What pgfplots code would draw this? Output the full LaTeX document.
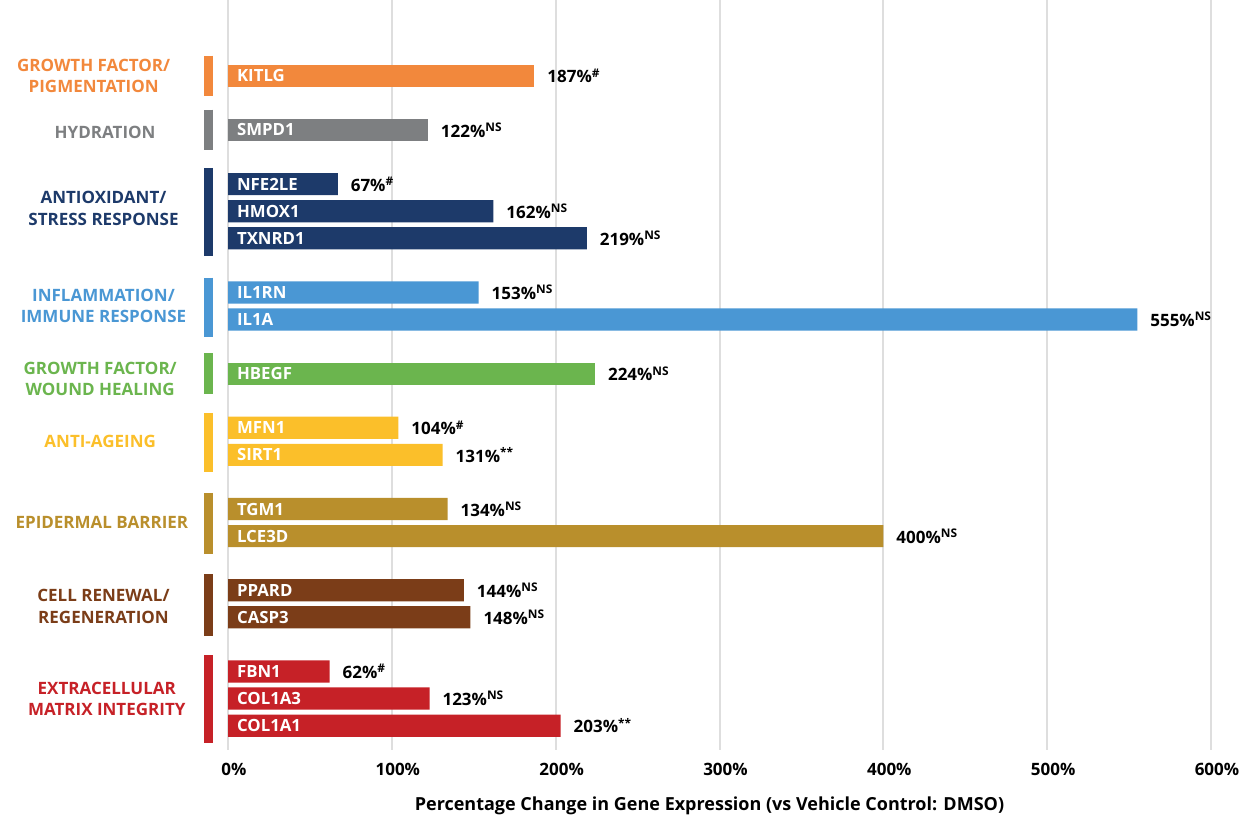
\documentclass[border=0pt]{standalone}
\usepackage{fontspec}
\setmainfont{Open Sans}
\usepackage{pgfplots}
\pgfplotsset{compat=1.18}

\definecolor{cOrange}{RGB}{242,136,60}
\definecolor{cGray}{RGB}{125,127,129}
\definecolor{cNavy}{RGB}{29,58,106}
\definecolor{cBlue}{RGB}{74,151,212}
\definecolor{cGreen}{RGB}{107,181,78}
\definecolor{cYellow}{RGB}{251,191,42}
\definecolor{cGold}{RGB}{185,143,44}
\definecolor{cBrown}{RGB}{123,61,24}
\definecolor{cRed}{RGB}{198,33,39}
\definecolor{gridgray}{RGB}{222,222,222}

\pgfplotsset{
  gbar/.style={xbar, bar width=0.82, bar shift=0pt, draw=none, fill=#1,
    point meta=explicit symbolic, nodes near coords,
    nodes near coords style={anchor=west, xshift=3pt, text=black,
      font=\fontsize{8.5}{10}\selectfont\bfseries}},
  grp/.style={#1, line width=4.8pt, forget plot},
}
\tikzset{
  gene/.style={anchor=west, xshift=1pt, text=white, font=\fontsize{8.4}{10}\selectfont\bfseries},
  cat/.style={align=center, text=#1, font=\fontsize{8.5}{10.6}\selectfont\bfseries},
}

\begin{document}
\begin{tikzpicture}
\begin{axis}[
  scale only axis, width=491.5pt, height=375pt,
  xmin=0, xmax=600, ymin=-2.8, ymax=24.9, y dir=reverse,
  clip=false,
  axis line style={draw=none},
  major tick length=0pt,
  ytick=\empty,
  xtick={0,100,200,300,400,500,600},
  xticklabels={0\%,100\%,200\%,300\%,400\%,500\%,600\%},
  xticklabel style={font=\fontsize{8.5}{10}\selectfont\bfseries, xshift=3pt, yshift=-3pt},
  xmajorgrids, major grid style={line width=1pt, gridgray},
  xlabel={Percentage Change in Gene Expression (vs Vehicle Control: DMSO)},
  xlabel style={font=\fontsize{9}{11}\selectfont\bfseries, xshift=-5pt, yshift=-4pt},
]
% growth factor / pigmentation
\addplot[gbar=cOrange] coordinates {(187,0) [187\%\textsuperscript{\#}]};
% hydration
\addplot[gbar=cGray] coordinates {(122,2) [122\%\textsuperscript{NS}]};
% antioxidant / stress response
\addplot[gbar=cNavy] coordinates {
  (67,4) [67\%\textsuperscript{\#}]
  (162,5) [162\%\textsuperscript{NS}]
  (219,6) [219\%\textsuperscript{NS}]};
% inflammation / immune response
\addplot[gbar=cBlue] coordinates {
  (153,8) [153\%\textsuperscript{NS}]
  (555,9) [555\%\textsuperscript{NS}]};
% growth factor / wound healing
\addplot[gbar=cGreen] coordinates {(224,11) [224\%\textsuperscript{NS}]};
% anti-ageing
\addplot[gbar=cYellow] coordinates {
  (104,13) [104\%\textsuperscript{\#}]
  (131,14) [131\%\textsuperscript{**}]};
% epidermal barrier
\addplot[gbar=cGold] coordinates {
  (134,16) [134\%\textsuperscript{NS}]
  (400,17) [400\%\textsuperscript{NS}]};
% cell renewal / regeneration
\addplot[gbar=cBrown] coordinates {
  (144,19) [144\%\textsuperscript{NS}]
  (148,20) [148\%\textsuperscript{NS}]};
% extracellular matrix integrity
\addplot[gbar=cRed] coordinates {
  (62,22) [62\%\textsuperscript{\#}]
  (123,23) [123\%\textsuperscript{NS}]
  (203,24) [203\%\textsuperscript{**}]};

% group markers
\addplot[grp=cOrange] coordinates {(-12,-0.75) (-12,0.75)};
\addplot[grp=cGray] coordinates {(-12,1.25) (-12,2.75)};
\addplot[grp=cNavy] coordinates {(-12,3.4) (-12,6.65)};
\addplot[grp=cBlue] coordinates {(-12,7.45) (-12,9.65)};
\addplot[grp=cGreen] coordinates {(-12,10.25) (-12,11.75)};
\addplot[grp=cYellow] coordinates {(-12,12.45) (-12,14.65)};
\addplot[grp=cGold] coordinates {(-12,15.4) (-12,17.65)};
\addplot[grp=cBrown] coordinates {(-12,18.4) (-12,20.7)};
\addplot[grp=cRed] coordinates {(-12,21.4) (-12,24.65)};

% gene names
\node[gene] at (axis cs:0,0) {KITLG};
\node[gene] at (axis cs:0,2) {SMPD1};
\node[gene] at (axis cs:0,4) {NFE2LE};
\node[gene] at (axis cs:0,5) {HMOX1};
\node[gene] at (axis cs:0,6) {TXNRD1};
\node[gene] at (axis cs:0,8) {IL1RN};
\node[gene] at (axis cs:0,9) {IL1A};
\node[gene] at (axis cs:0,11) {HBEGF};
\node[gene] at (axis cs:0,13) {MFN1};
\node[gene] at (axis cs:0,14) {SIRT1};
\node[gene] at (axis cs:0,16) {TGM1};
\node[gene] at (axis cs:0,17) {LCE3D};
\node[gene] at (axis cs:0,19) {PPARD};
\node[gene] at (axis cs:0,20) {CASP3};
\node[gene] at (axis cs:0,22) {FBN1};
\node[gene] at (axis cs:0,23) {COL1A3};
\node[gene] at (axis cs:0,24) {COL1A1};

% category labels
\node[cat=cOrange] at (axis cs:-82,0) {GROWTH FACTOR/\\PIGMENTATION};
\node[cat=cGray] at (axis cs:-75,2.1) {HYDRATION};
\node[cat=cNavy] at (axis cs:-76,4.9) {ANTIOXIDANT/\\STRESS RESPONSE};
\node[cat=cBlue] at (axis cs:-76,8.5) {INFLAMMATION/\\IMMUNE RESPONSE};
\node[cat=cGreen] at (axis cs:-78,11.2) {GROWTH FACTOR/\\WOUND HEALING};
\node[cat=cYellow] at (axis cs:-78,13.5) {ANTI-AGEING};
\node[cat=cGold] at (axis cs:-77,16.5) {EPIDERMAL BARRIER};
\node[cat=cBrown] at (axis cs:-76,19.6) {CELL RENEWAL/\\REGENERATION};
\node[cat=cRed] at (axis cs:-74,23) {EXTRACELLULAR\\MATRIX INTEGRITY};
\end{axis}
\pgfresetboundingbox
\path[use as bounding box] ([xshift=-114pt, yshift=-33pt]current axis.south west)
  rectangle ([xshift=14pt]current axis.north east);
\end{tikzpicture}
\end{document}
